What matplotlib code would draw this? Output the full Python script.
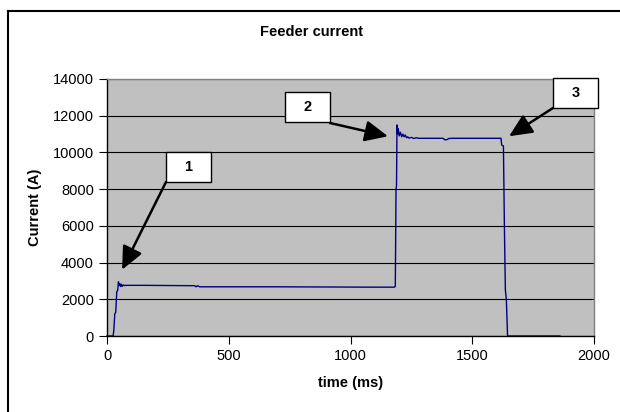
import matplotlib
matplotlib.use('Agg')
import matplotlib.pyplot as plt
from matplotlib.patches import Rectangle
from matplotlib.lines import Line2D

plt.rcParams['font.family'] = ['Liberation Sans', 'DejaVu Sans']

# feeder current trace
time_ms = [0, 25, 28, 32, 36, 40, 44, 47, 50, 53, 56, 59, 62, 66, 70, 80,
           150, 250, 360, 366, 372, 380, 386, 500, 700, 900, 1100, 1180,
           1184, 1187, 1189, 1191, 1193, 1196, 1200, 1205, 1210, 1215, 1220,
           1225, 1230, 1235, 1240, 1250, 1260, 1270, 1280, 1290, 1300, 1320,
           1380, 1388, 1396, 1404, 1420, 1500, 1600, 1618, 1621, 1628, 1632,
           1636, 1640, 1645, 1700, 1860]
current_a = [0, 0, 300, 1200, 1300, 2400, 2500, 2950, 2750, 2850, 2700, 2820,
             2700, 2780, 2750, 2760, 2760, 2750, 2740, 2680, 2740, 2680, 2680,
             2680, 2680, 2670, 2660, 2660, 2700, 8000, 8200, 11500, 11000,
             11300, 10900, 11100, 10850, 11000, 10850, 10950, 10800, 10850,
             10780, 10820, 10760, 10800, 10770, 10770, 10770, 10770, 10770,
             10680, 10700, 10760, 10770, 10770, 10770, 10770, 10400, 10350,
             6000, 2500, 2000, 0, 0, 0]

callout_labels = ['1', '2', '3']
callout_tips = [(62, 3610), (1154, 10880), (1651, 10880)]

W, H = 620, 412


def px(x, y):
    """top-left pixel -> figure fraction"""
    return x / W, 1 - y / H


fig = plt.figure(figsize=(6.2, 4.12), dpi=100)
fig.patch.set_facecolor('white')

# chart border (only left/top visible in the crop)
fig.add_artist(Line2D([8 / W, 8 / W], [0, 1 - 11 / H], color='black', lw=1.5,
                      transform=fig.transFigure))
fig.add_artist(Line2D([8 / W, 1], [1 - 11 / H, 1 - 11 / H], color='black', lw=1.5,
                      transform=fig.transFigure))

x0, y1 = px(107, 79)
x1, y0 = px(594, 336)
ax = fig.add_axes([x0, y0, x1 - x0, y1 - y0])
ax.set_facecolor('#C0C0C0')

ax.plot(time_ms, current_a, color='#000080', lw=1, clip_on=False)

ax.set_xlim(0, 2000)
ax.set_ylim(0, 14000)
ax.set_xticks(range(0, 2001, 500))
ax.set_yticks(range(0, 14001, 2000))
ax.yaxis.grid(True, color='black', lw=0.8)
ax.set_axisbelow(True)

for side in ['top', 'right']:
    ax.spines[side].set_color('#808080')
    ax.spines[side].set_linewidth(1)
for side in ['left', 'bottom']:
    ax.spines[side].set_color('black')
    ax.spines[side].set_linewidth(1)

ax.tick_params(direction='out', length=5.5, width=0.8, labelsize=10.5, pad=4)

ax.set_xlabel('time (ms)', fontsize=10.5, fontweight='bold', labelpad=9)
ax.set_ylabel('Current (A)', fontsize=10.5, fontweight='bold', labelpad=8)
fig.text(*px(312, 32), 'Feeder current', ha='center', va='center',
         fontsize=10.5, fontweight='bold')

# numbered callout boxes with arrows
boxes = [(166, 152), (285, 92), (553, 78)]
starts = [(166, 182), (330, 123), (553, 108)]
for lab, (bx, by), (sx, sy), tip in zip(callout_labels, boxes, starts, callout_tips):
    fx, fy = px(bx, by + 30)
    fig.add_artist(Rectangle((fx, fy), 45 / W, 30 / H, transform=fig.transFigure,
                             facecolor='white', edgecolor='black', lw=1, zorder=5))
    fig.text(*px(bx + 22.5, by + 15), lab, ha='center', va='center',
             fontsize=10.5, fontweight='bold', zorder=6)
    ax.annotate('', xy=tip, xycoords='data',
                xytext=(sx, H - sy), textcoords='figure pixels',
                arrowprops=dict(arrowstyle='-|>,head_length=0.7,head_width=0.32',
                                mutation_scale=20, color='black', lw=1.8,
                                shrinkA=0, shrinkB=0),
                annotation_clip=False, zorder=4)

fig.savefig('out.png', dpi=100)
